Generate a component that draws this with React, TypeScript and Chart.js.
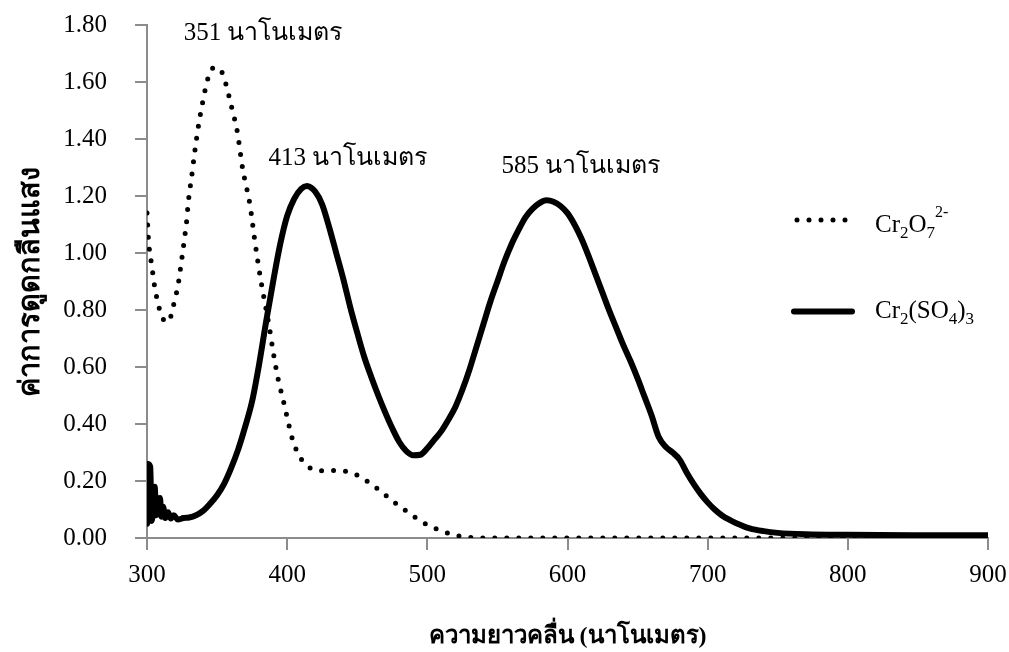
import React, { useEffect, useRef } from "react";
import { Chart, registerables } from "chart.js";

Chart.register(...registerables);

// ---------- data ----------
const dichromateNm = [
  300, 301, 302, 303.3, 304.5, 305.7, 307.6, 309.8, 312, 314.5, 316.5, 318, 320, 322, 323.3,
  324.5, 325.7, 326.8, 328, 329.5, 331.9, 334.2, 336.6, 339.7, 343.7, 348, 353.3, 356.1,
  360.4, 364.4, 368.2, 373.5, 377, 381, 387.3, 390.1, 393.2, 397.3, 401.3, 403.4, 406.3,
  410.4, 417, 425.3, 434.1, 442.9, 451.2, 458.6, 465.8, 472.7, 479.6, 486.7, 494, 501.9,
  509.7, 518.1, 528, 540, 600, 700, 800, 900,
];
const dichromateAbs = [
  1.14, 1.05, 1.0, 0.96, 0.915, 0.874, 0.83, 0.787, 0.765, 0.758, 0.77, 0.797, 0.839, 0.882,
  0.925, 0.968, 1.01, 1.055, 1.098, 1.18, 1.27, 1.36, 1.443, 1.529, 1.616, 1.651, 1.636,
  1.596, 1.511, 1.426, 1.297, 1.168, 1.04, 0.91, 0.739, 0.651, 0.566, 0.481, 0.395, 0.353,
  0.312, 0.274, 0.244, 0.236, 0.237, 0.233, 0.218, 0.194, 0.168, 0.14, 0.113, 0.089, 0.063,
  0.042, 0.026, 0.012, 0.003, 0, 0, 0, 0, 0,
];

const sulfateNm = [
  300, 300.6, 302.3, 303.3, 304.3, 305.5, 306.5, 308, 309.3, 310.2, 311.5, 313, 315, 317,
  319, 322, 326, 330, 335, 340, 345, 350, 355, 360, 365, 370, 375, 380, 385, 390, 395, 400,
  405, 410, 414, 420, 425, 430, 435, 440, 445, 450, 455, 460, 465, 470, 475, 480, 485, 490,
  495, 500, 505, 510, 515, 520, 525, 530, 535, 540, 545, 550, 555, 560, 565, 570, 575, 580,
  585, 590, 595, 600, 605, 610, 615, 620, 625, 630, 635, 640, 645, 650, 655, 660, 665, 670,
  675, 680, 685, 690, 695, 700, 705, 710, 715, 720, 730, 740, 750, 770, 800, 850, 900,
];
const sulfateAbs = [
  0.05, 0.26, 0.25, 0.06, 0.1, 0.18, 0.08, 0.13, 0.14, 0.075, 0.11, 0.07, 0.09, 0.068,
  0.08, 0.065, 0.07, 0.072, 0.08, 0.095, 0.12, 0.15, 0.19, 0.245, 0.31, 0.39, 0.48, 0.61,
  0.76, 0.9, 1.03, 1.13, 1.19, 1.225, 1.235, 1.215, 1.17, 1.09, 1.0, 0.91, 0.81, 0.72,
  0.635, 0.565, 0.5, 0.44, 0.385, 0.337, 0.305, 0.29, 0.292, 0.315, 0.345, 0.375, 0.415,
  0.46, 0.52, 0.59, 0.67, 0.75, 0.83, 0.9, 0.97, 1.03, 1.08, 1.125, 1.155, 1.175, 1.185,
  1.18, 1.165, 1.14, 1.1, 1.05, 0.99, 0.925, 0.86, 0.795, 0.735, 0.675, 0.62, 0.56, 0.495,
  0.43, 0.355, 0.32, 0.3, 0.275, 0.23, 0.19, 0.155, 0.125, 0.1, 0.08, 0.065, 0.053, 0.034,
  0.024, 0.018, 0.013, 0.011, 0.01, 0.01,
];

const xTickValues = [300, 400, 500, 600, 700, 800, 900];
const yTickValues = [0, 0.2, 0.4, 0.6, 0.8, 1.0, 1.2, 1.4, 1.6, 1.8];

const xTitle = "ความยาวคลื่น (นาโนเมตร)";
const yTitle = "ค่าการดูดกลืนแสง";

const peakLabels = ["351 นาโนเมตร", "413 นาโนเมตร", "585 นาโนเมตร"];
const peakLabelNm = [382.8, 443.4, 609.6];
const peakLabelAbs = [1.747, 1.309, 1.281];

type Part = { t: string; k?: "sub" | "sup" };
const legendDichromate: Part[] = [{ t: "Cr" }, { t: "2", k: "sub" }, { t: "O" }, { t: "7", k: "sub" }, { t: "2-", k: "sup" }];
const legendSulfate: Part[] = [{ t: "Cr" }, { t: "2", k: "sub" }, { t: "(SO" }, { t: "4", k: "sub" }, { t: ")" }, { t: "3", k: "sub" }];

// ---------- styling ----------
const SERIF = '"Liberation Serif", "Times New Roman", serif';
const AXIS_GRAY = "#8c8c8c";
const FONT_SIZE = 25;

function drawRich(ctx: CanvasRenderingContext2D, x: number, baseline: number, parts: Part[]) {
  let cx = x;
  for (const p of parts) {
    let size = FONT_SIZE;
    let dy = 0;
    if (p.k === "sub") {
      size = 17;
      dy = 6;
    } else if (p.k === "sup") {
      size = 16;
      dy = -15;
    }
    ctx.font = `${size}px ${SERIF}`;
    ctx.fillText(p.t, cx, baseline + dy);
    cx += ctx.measureText(p.t).width;
  }
}

const overlayPlugin = {
  id: "overlay",
  afterDraw(chart: any) {
    const ctx: CanvasRenderingContext2D = chart.ctx;
    const xs = chart.scales.x;
    const ys = chart.scales.y;
    ctx.save();
    ctx.fillStyle = "#000";
    ctx.textBaseline = "alphabetic";
    // peak annotations
    ctx.textAlign = "center";
    ctx.font = `${FONT_SIZE}px ${SERIF}`;
    peakLabels.forEach((txt, i) => {
      ctx.fillText(txt, xs.getPixelForValue(peakLabelNm[i]), ys.getPixelForValue(peakLabelAbs[i]));
    });
    // legend
    ctx.textAlign = "left";
    ctx.strokeStyle = "#000";
    ctx.lineCap = "round";
    ctx.lineWidth = 5;
    ctx.setLineDash([0, 12]);
    ctx.beginPath();
    ctx.moveTo(797, 220);
    ctx.lineTo(854, 220);
    ctx.stroke();
    ctx.setLineDash([]);
    ctx.lineWidth = 6;
    ctx.beginPath();
    ctx.moveTo(794, 311.5);
    ctx.lineTo(852, 311.5);
    ctx.stroke();
    drawRich(ctx, 875, 232, legendDichromate);
    drawRich(ctx, 875, 318, legendSulfate);
    ctx.restore();
  },
};

export default function App() {
  const ref = useRef<HTMLCanvasElement | null>(null);

  useEffect(() => {
    if (!ref.current) return;
    const chart = new Chart(ref.current, {
      type: "line",
      data: {
        datasets: [
          {
            label: "Cr2(SO4)3",
            data: sulfateNm.map((x, i) => ({ x, y: sulfateAbs[i] })),
            borderColor: "#000",
            borderWidth: 6,
            pointRadius: 0,
            cubicInterpolationMode: "monotone",
            borderCapStyle: "round",
            borderJoinStyle: "round",
            fill: false,
            order: 0,
          },
          {
            label: "Cr2O7 2-",
            data: dichromateNm.map((x, i) => ({ x, y: dichromateAbs[i] })),
            borderColor: "#000",
            borderWidth: 5,
            borderDash: [0, 12],
            borderCapStyle: "round",
            pointRadius: 0,
            cubicInterpolationMode: "monotone",
            fill: false,
            order: 1,
          },
        ],
      },
      options: {
        responsive: false,
        animation: false,
        events: [],
        layout: { padding: { top: 25, right: 21, left: 0, bottom: 0 } },
        plugins: {
          legend: { display: false },
          tooltip: { enabled: false },
        },
        scales: {
          x: {
            type: "linear",
            min: 300,
            max: 900,
            afterBuildTicks: (s: any) => {
              s.ticks = xTickValues.map((v) => ({ value: v }));
            },
            afterFit: (s: any) => {
              s.height = 114;
              s.paddingLeft = 0;
              s.paddingRight = 0;
            },
            grid: {
              drawOnChartArea: false,
              drawTicks: true,
              tickLength: 12,
              color: AXIS_GRAY,
              lineWidth: 2,
            },
            border: { display: true, color: AXIS_GRAY, width: 2 },
            ticks: {
              color: "#000",
              font: { family: SERIF, size: FONT_SIZE },
              padding: 10,
              maxRotation: 0,
              autoSkip: false,
              callback: (v: any) => String(v),
            },
            title: {
              display: true,
              text: xTitle,
              color: "#000",
              font: { family: SERIF, size: 24, weight: "bold" },
              padding: { top: 0, bottom: 1 },
            },
          },
          y: {
            type: "linear",
            min: 0,
            max: 1.8,
            afterBuildTicks: (s: any) => {
              s.ticks = yTickValues.map((v) => ({ value: v }));
            },
            afterFit: (s: any) => {
              s.width = 147;
              s.paddingTop = 0;
              s.paddingBottom = 0;
            },
            grid: {
              drawOnChartArea: false,
              drawTicks: true,
              tickLength: 12,
              color: AXIS_GRAY,
              lineWidth: 2,
            },
            border: { display: true, color: AXIS_GRAY, width: 2 },
            ticks: {
              color: "#000",
              font: { family: SERIF, size: FONT_SIZE },
              padding: 28,
              autoSkip: false,
              callback: (v: any) => Number(v).toFixed(2),
            },
            title: {
              display: true,
              text: yTitle,
              color: "#000",
              font: { family: SERIF, size: 29, weight: "bold" },
              padding: { top: 14, bottom: 0 },
            },
          },
        },
      } as any,
      plugins: [overlayPlugin],
    });
    return () => chart.destroy();
  }, []);

  return (
    <div style={{ position: "fixed", left: 0, top: 0, width: 1009, height: 652, background: "#fff" }}>
      <canvas ref={ref} width={1009} height={652} style={{ width: 1009, height: 652, display: "block" }} />
    </div>
  );
}
